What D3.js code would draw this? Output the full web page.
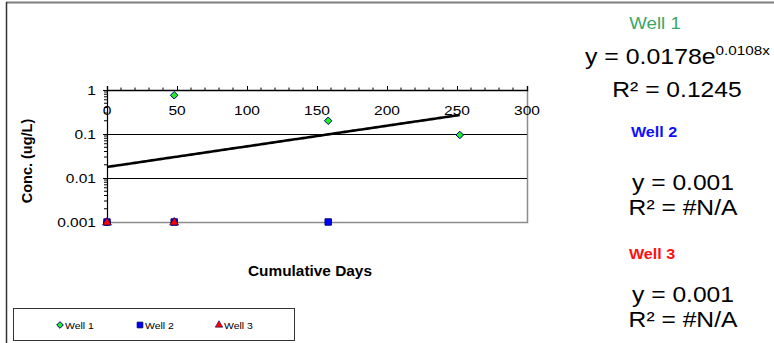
<!DOCTYPE html>
<html>
<head>
<meta charset="utf-8">
<script src="https://cdn.jsdelivr.net/npm/d3@7"></script>
<style>
  html, body { margin: 0; padding: 0; background: #fff; }
  svg { display: block; font-family: "Liberation Sans", Arial, sans-serif; }
</style>
</head>
<body>
<svg id="chart" width="774" height="343"></svg>
<script>
// Sampling results per well: cumulative days vs concentration (ug/L)
const wellNames = ["Well 1", "Well 2", "Well 3"];
const well1Days = [0, 48, 158, 252];
const well1Conc = [0.001, 0.76, 0.2, 0.095];
const well2Days = [0, 48, 158];
const well2Conc = [0.001, 0.001, 0.001];
const well3Days = [0, 48];
const well3Conc = [0.001, 0.001];

// Exponential trendline for Well 1: y = a * e^(b x)
const trendA = 0.0178;
const trendB = 0.0108;
const trendRange = [0, 252];

const xTicks = [0, 50, 100, 150, 200, 250, 300];
const yTicks = [1, 0.1, 0.01, 0.001];
const yTickLabels = ["1", "0.1", "0.01", "0.001"];

const svg = d3.select("#chart");
const plot = { left: 107, right: 527, top: 90, bottom: 222 };

const x = d3.scaleLinear().domain([0, 300]).range([plot.left, plot.right]);
const y = d3.scaleLog().domain([0.001, 1]).range([plot.bottom, plot.top]);

// text helper with horizontal stretch
function label(g, str, px, py, opts) {
  const o = Object.assign({ size: 13, sx: 1, anchor: "start", weight: "normal", fill: "#000" }, opts || {});
  return g.append("text")
    .attr("transform", `translate(${px},${py}) scale(${o.sx},1)`)
    .attr("text-anchor", o.anchor)
    .attr("font-size", o.size)
    .attr("font-weight", o.weight)
    .attr("fill", o.fill)
    .text(str);
}

// outer frame (top and left edges)
svg.append("line").attr("x1", 6).attr("x2", 774).attr("y1", 2.5).attr("y2", 2.5)
  .attr("stroke", "#808080").attr("stroke-width", 2);
svg.append("line").attr("x1", 6.5).attr("x2", 6.5).attr("y1", 2).attr("y2", 343)
  .attr("stroke", "#333").attr("stroke-width", 1.5);

// plot area border (right and bottom, grey)
svg.append("path")
  .attr("d", `M${plot.right + 0.5},${plot.top}V${plot.bottom + 0.5}H${plot.left}`)
  .attr("fill", "none").attr("stroke", "#8c8c8c").attr("stroke-width", 1.5);

// horizontal gridlines at the inner decades
svg.append("g").selectAll("line")
  .data(yTicks.filter(v => v !== 1 && v !== 0.001))
  .join("line")
  .attr("x1", plot.left).attr("x2", plot.right)
  .attr("y1", d => Math.round(y(d)) + 0.5).attr("y2", d => Math.round(y(d)) + 0.5)
  .attr("stroke", "#000").attr("stroke-width", 1);

// y axis (log) with minor ticks
const yAxis = d3.axisLeft(y)
  .tickValues(yTicks)
  .tickFormat("")
  .tickSize(4);
const gy = svg.append("g").attr("transform", `translate(${plot.left},0)`).call(yAxis);
gy.select(".domain").attr("stroke", "#000").attr("stroke-width", 1.2);
const minor = [];
[0.001, 0.01, 0.1].forEach(dec => { for (let k = 2; k <= 9; k++) minor.push(dec * k); });
gy.append("g").selectAll("line").data(minor).join("line")
  .attr("x1", -3).attr("x2", 0)
  .attr("y1", d => y(d)).attr("y2", d => y(d))
  .attr("stroke", "#000");
yTicks.forEach((v, i) => {
  label(svg, yTickLabels[i], plot.left - 11, y(v) + 5, { size: 13.5, sx: 1.15, anchor: "end" });
});

// x axis sits at the top (value 1), labels hang below it
const xAxis = d3.axisTop(x).tickValues(xTicks).tickFormat("").tickSize(4);
const gx = svg.append("g").attr("transform", `translate(0,${plot.top})`).call(xAxis);
gx.select(".domain").attr("stroke", "#000").attr("stroke-width", 1.4);
const xMinor = d3.range(10, 300, 10).filter(v => v % 50 !== 0);
gx.append("g").selectAll("line").data(xMinor).join("line")
  .attr("x1", d => x(d)).attr("x2", d => x(d))
  .attr("y1", -2.5).attr("y2", 0).attr("stroke", "#000");
xTicks.forEach(v => {
  label(svg, String(v), x(v), plot.top + 25, { size: 13.5, sx: 1.15, anchor: "middle" });
});

// axis titles
label(svg, "Cumulative Days", 310, 276, { size: 14, sx: 1.1, anchor: "middle", weight: "bold" });
svg.append("text")
  .attr("transform", `translate(32,${(plot.top + plot.bottom) / 2 + 5}) rotate(-90)`)
  .attr("text-anchor", "middle").attr("font-size", 14.5).attr("font-weight", "bold")
  .text("Conc. (ug/L)");

// Well 1 exponential trendline
const trendXs = d3.range(trendRange[0], trendRange[1] + 0.001, 2);
svg.append("path")
  .datum(trendXs)
  .attr("d", d3.line().x(d => x(d)).y(d => y(trendA * Math.exp(trendB * d))))
  .attr("fill", "none").attr("stroke", "#000").attr("stroke-width", 2.6);

// markers
const markerStyles = [
  { type: d3.symbolDiamond2, size: 36, legendSize: 28, fill: "#22ee22", stroke: "#000080" },
  { type: d3.symbolSquare2, size: 52, legendSize: 40, fill: "#0000ff", stroke: "#000080" },
  { type: d3.symbolTriangle2, size: 56, legendSize: 40, fill: "#ff0000", stroke: "#000060" }
];
const series = [
  d3.zip(well1Days, well1Conc),
  d3.zip(well2Days, well2Conc),
  d3.zip(well3Days, well3Conc)
];
series.forEach((pts, i) => {
  const st = markerStyles[i];
  svg.append("g").selectAll("path").data(pts).join("path")
    .attr("transform", d => `translate(${x(d[0])},${y(d[1]) + (i === 2 ? 0.5 : 0)})`)
    .attr("d", d3.symbol().type(st.type).size(st.size)())
    .attr("fill", st.fill).attr("stroke", st.stroke).attr("stroke-width", i === 2 ? 0.7 : 1);
});

// legend
const lg = svg.append("g");
lg.append("rect").attr("x", 13.5).attr("y", 308.5).attr("width", 281).attr("height", 32)
  .attr("fill", "#fff").attr("stroke", "#333").attr("stroke-width", 1);
const legendX = [60, 140, 219];
wellNames.forEach((name, i) => {
  const st = markerStyles[i];
  lg.append("path").attr("transform", `translate(${legendX[i]},325)`)
    .attr("d", d3.symbol().type(st.type).size(st.legendSize)())
    .attr("fill", st.fill).attr("stroke", st.stroke).attr("stroke-width", i === 2 ? 0.6 : 1);
  label(lg, name, legendX[i] + 5, 329, { size: 9.5, sx: 1.1 });
});

// trendline equations, one block per well
const rg = svg.append("g");
label(rg, "Well 1", 655, 29, { size: 17, sx: 1.1, anchor: "middle", fill: "#3aa66a" });
const eq1 = rg.append("text")
  .attr("transform", "translate(585,64) scale(1.13,1)")
  .attr("font-size", 22);
eq1.append("tspan").text("y = 0.0178e");
eq1.append("tspan").attr("font-size", 13.5).attr("dy", -9).text("0.0108x");
label(rg, "R² = 0.1245", 677, 97, { size: 22, sx: 1.12, anchor: "middle" });

label(rg, "Well 2", 654, 137, { size: 14, sx: 1.15, anchor: "middle", weight: "bold", fill: "#1010ff" });
label(rg, "y = 0.001", 683, 190, { size: 22, sx: 1.12, anchor: "middle" });
label(rg, "R² = #N/A", 683, 215, { size: 22, sx: 1.12, anchor: "middle" });

label(rg, "Well 3", 652, 259, { size: 14, sx: 1.15, anchor: "middle", weight: "bold", fill: "#ff1010" });
label(rg, "y = 0.001", 683, 302, { size: 22, sx: 1.12, anchor: "middle" });
label(rg, "R² = #N/A", 683, 327, { size: 22, sx: 1.12, anchor: "middle" });
</script>
</body>
</html>
